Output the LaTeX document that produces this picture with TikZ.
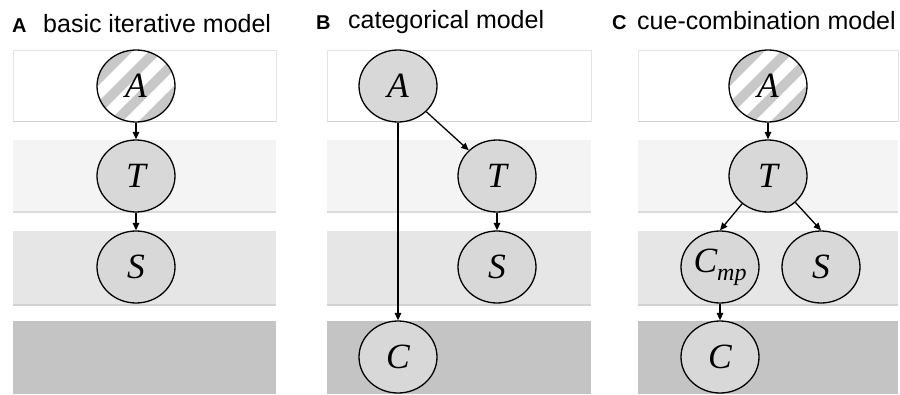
\documentclass[tikz,border=0pt]{standalone}
\usepackage{fontspec}
\setmainfont{Liberation Serif}
\newfontfamily\titlefont{Liberation Sans}
\usetikzlibrary{shapes.geometric,arrows.meta,calc}
\definecolor{bandA}{HTML}{FFFFFF}
\definecolor{bandB}{HTML}{F4F4F4}
\definecolor{bandC}{HTML}{E6E6E6}
\definecolor{bandD}{HTML}{C4C4C4}
\definecolor{edgeA}{HTML}{E4E4E4}
\definecolor{edgeB}{HTML}{DCDCDC}
\definecolor{edgeC}{HTML}{D2D2D2}
\definecolor{nodefill}{HTML}{D8D8D8}
\definecolor{stripegray}{HTML}{C8C8C8}
\tikzset{
  var/.style={ellipse, draw=black, line width=1.3pt, fill=nodefill,
    minimum width=78pt, minimum height=72pt, inner sep=0pt,
    font=\fontsize{35.5}{35.5}\selectfont\itshape},
  striped/.style={var, fill=none, path picture={
      \fill[stripegray] (path picture bounding box.south west) rectangle (path picture bounding box.north east);
      \foreach \i in {-4,...,4}{
        \draw[white, line width=11pt]
          ($(path picture bounding box.center)+(\i*30pt-60pt,-60pt)$) --
          ($(path picture bounding box.center)+(\i*30pt+60pt,60pt)$);
      }}},
  conn/.style={line width=1.3pt, -{Triangle[length=7.5pt,width=6.5pt]}},
  letter/.style={anchor=base west, inner sep=0pt, font=\titlefont\bfseries\fontsize{20}{20}\selectfont},
  ttl/.style={anchor=base west, inner sep=0pt, font=\titlefont\fontsize{25}{25}\selectfont},
  bandtwo/.style={fill=bandB},
  bandthree/.style={fill=bandC},
  bandfour/.style={fill=bandD},
}
\begin{document}
\begin{tikzpicture}[x=1pt,y=-1pt]
\useasboundingbox (0,0) rectangle (900,394);
\fill[white] (0,0) rectangle (900,394);
% bands
\foreach \xa/\xb in {13/276, 327/591, 638/898}{
  \draw[edgeA, line width=0.8pt, fill=bandA] (\xa,50) rectangle (\xb,121);
  \draw[edgeC, line width=0.8pt] (\xa,121) -- (\xb,121);
  \fill[bandtwo] (\xa,140) rectangle (\xb,212);
  \draw[edgeB, line width=1.2pt] (\xa,212) -- (\xb,212);
  \fill[bandthree] (\xa,231) rectangle (\xb,305);
  \draw[edgeC, line width=1.2pt] (\xa,305) -- (\xb,305);
  \fill[bandfour] (\xa,321) rectangle (\xb,394);
}
% titles
\node[letter] (la) at (12,32) {A};
\node[ttl] (ta) at (43,32) {basic iterative model};
\node[letter] (lb) at (316,29.5) {B};
\node[ttl] (tb) at (348,28.5) {categorical model};
\node[letter] (lc) at (612,29.5) {C};
\node[ttl] (tc) at (637,29.5) {cue-combination model};
% panel A
\node[striped] (aA) at (136,86) {A};
\node[var] (aT) at (136,176) {T};
\node[var] (aS) at (136,267) {S};
\draw[conn] (aA) -- (aT);
\draw[conn] (aT) -- (aS);
% panel B
\node[var] (bA) at (398,86) {A};
\node[var] (bT) at (497,176) {T};
\node[var] (bS) at (497,267) {S};
\node[var] (bC) at (398,357) {C};
\draw[conn] (bA) -- (bC);
\draw[conn] (bA) -- (bT);
\draw[conn] (bT) -- (bS);
% panel C
\node[striped] (cA) at (768,86) {A};
\node[var] (cT) at (768,176) {T};
\node[var] (cM) at (720,267) {C\raisebox{-0.22em}{\fontsize{24}{24}\selectfont mp}};
\node[var] (cS) at (821,267) {S};
\node[var] (cC) at (720,357) {C};
\draw[conn] (cA) -- (cT);
\draw[conn] (cT.-133) -- (cM.north);
\draw[conn] (cT.-44) -- (cS.north);
\draw[conn] (cM) -- (cC);
\end{tikzpicture}
\end{document}
